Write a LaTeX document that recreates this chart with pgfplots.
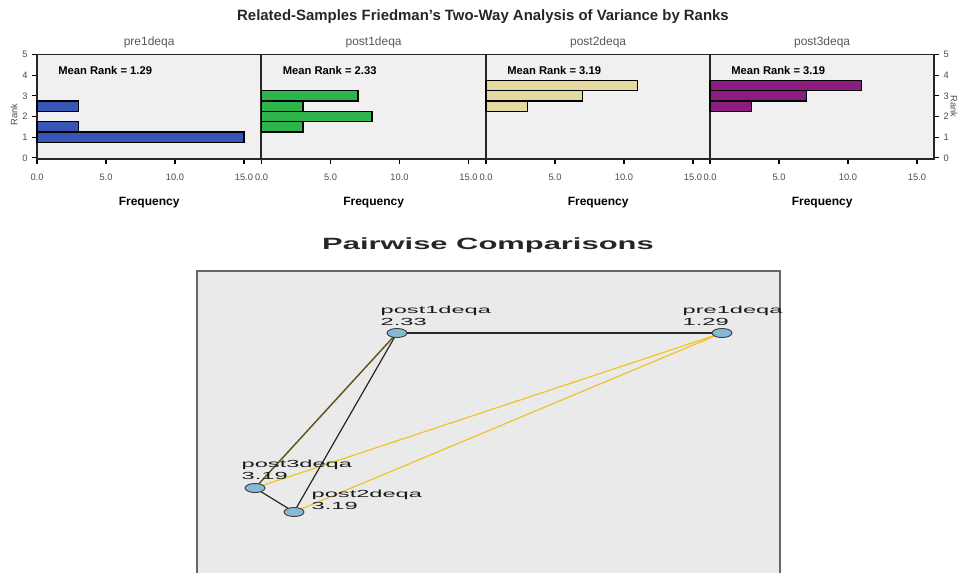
\documentclass[border=0pt]{standalone}
\usepackage{pgfplots}
\pgfplotsset{compat=1.18}
\usepackage{fontspec}
\setmainfont{Liberation Sans}
\usepackage{graphicx}
\definecolor{barblue}{RGB}{55,85,180}
\definecolor{bargreen}{RGB}{45,180,75}
\definecolor{barkhaki}{RGB}{228,218,160}
\definecolor{barpurple}{RGB}{140,28,130}
\definecolor{panelbg}{RGB}{240,240,240}
\definecolor{boxbg}{RGB}{234,234,234}
\definecolor{nodeblue}{RGB}{135,185,215}
\definecolor{edgeyellow}{RGB}{240,195,40}
\definecolor{edgeolive}{RGB}{95,85,30}
\pgfplotsset{
  panel/.style={
    scale only axis, width=168.2pt, height=78.4pt,
    xmin=0, xmax=16.25, ymin=-0.05, ymax=5,
    axis background/.style={fill=panelbg},
    axis line style={black!85, line width=1.3pt},
    xtick={0,5,10,15}, xticklabels={0.0,5.0,10.0,15.0},
    xtick pos=left, tick align=outside, major tick length=3.5pt,
    tick style={black, line width=0.8pt},
    /pgf/number format/assume math mode=true,
    ticklabel style={font=\fontsize{7}{8}\selectfont, text=black!70},
    xticklabel style={yshift=-4pt},
    xlabel={Frequency},
    xlabel style={font=\bfseries\fontsize{9}{10}\selectfont, yshift=-6pt},
    title style={font=\fontsize{9}{10}\selectfont, text=black!65, yshift=-5pt},
    clip=false,
  },
  freqbar/.style={xbar, bar width=0.5, draw=black, line width=1pt},
}
\tikzset{
  meanrank/.style={anchor=west, inner sep=0pt, font=\bfseries\fontsize{8.4}{9}\selectfont},
  lbl/.style={anchor=base west, font=\fontsize{7.7}{9}\selectfont, text=black!90},
  ranklbl/.style={font=\fontsize{7}{8}\selectfont, text=black!70},
}
\begin{document}
\begin{tikzpicture}
\useasboundingbox (0pt,0pt) rectangle (720.75pt,-429.75pt);
\node[font=\bfseries\fontsize{11.2}{13}\selectfont, text=black!85] at (362.25pt,-12.75pt) {Related-Samples Friedman's Two-Way Analysis of Variance by Ranks};

% panel 1
\begin{axis}[panel, at={(27.75pt,-119.25pt)}, anchor=south west, title={pre1deqa},
  ytick={0,1,2,3,4,5}, ytick pos=left]
\addplot[freqbar, fill=barblue] coordinates {(15,1) (3,1.5) (3,2.5)};
\node[meanrank] at (rel axis cs:0.094,0.842) {Mean Rank = 1.29};
\end{axis}
% panel 2
\begin{axis}[panel, at={(196.125pt,-119.25pt)}, anchor=south west, title={post1deqa}, ytick=\empty]
\addplot[freqbar, fill=bargreen] coordinates {(3,1.5) (8,2) (3,2.5) (7,3)};
\node[meanrank] at (rel axis cs:0.094,0.842) {Mean Rank = 2.33};
\end{axis}
% panel 3
\begin{axis}[panel, at={(364.5pt,-119.25pt)}, anchor=south west, title={post2deqa}, ytick=\empty]
\addplot[freqbar, fill=barkhaki] coordinates {(3,2.5) (7,3) (11,3.5)};
\node[meanrank] at (rel axis cs:0.094,0.842) {Mean Rank = 3.19};
\end{axis}
% panel 4
\begin{axis}[panel, at={(532.5pt,-119.25pt)}, anchor=south west, title={post3deqa},
  ytick={0,1,2,3,4,5}, ytick pos=right, yticklabel pos=right]
\addplot[freqbar, fill=barpurple] coordinates {(3,2.5) (7,3) (11,3.5)};
\node[meanrank] at (rel axis cs:0.094,0.842) {Mean Rank = 3.19};
\end{axis}
\node[ranklbl, rotate=90] at (10.5pt,-86pt) {Rank};
\node[ranklbl, rotate=-90] at (715.5pt,-80pt) {Rank};

\node[font=\bfseries\fontsize{12.2}{14}\selectfont, text=black!85] at (366pt,-183.75pt) {\scalebox{1.9}[1]{Pairwise Comparisons}};

\begin{axis}[at={(147.75pt,-203.25pt)}, anchor=north west, scale only axis,
  width=437.25pt, height=240pt, xmin=197, xmax=780, ymin=271, ymax=591,
  y dir=reverse, ticks=none, axis background/.style={fill=boxbg},
  axis line style={draw=black!60, line width=2.2pt}, clip=false]
\addplot[edgeyellow, line width=0.9pt] coordinates {(722,333) (255,488)};
\addplot[edgeyellow, line width=0.9pt] coordinates {(722,333) (294,512)};
\addplot[black!85, line width=0.9pt] coordinates {(397,333) (722,333)};
\addplot[edgeolive, line width=1.1pt] coordinates {(397,333) (255,488)};
\addplot[black!85, line width=0.9pt] coordinates {(397,333) (294,512)};
\addplot[black!85, line width=0.9pt] coordinates {(255,488) (294,512)};
\addplot[only marks, mark=*, mark size=3.4pt, mark options={xscale=2.2, fill=nodeblue, draw=black!75, line width=0.7pt}] coordinates {(397,333) (722,333) (255,488) (294,512)};
\node[lbl] at (axis cs:376,313) {\scalebox{2.3}[1]{post1deqa}};
\node[lbl] at (axis cs:376,325) {\scalebox{2.3}[1]{2.33}};
\node[lbl] at (axis cs:678,313) {\scalebox{2.3}[1]{pre1deqa}};
\node[lbl] at (axis cs:678,325) {\scalebox{2.3}[1]{1.29}};
\node[lbl] at (axis cs:237,467) {\scalebox{2.3}[1]{post3deqa}};
\node[lbl] at (axis cs:237,479) {\scalebox{2.3}[1]{3.19}};
\node[lbl] at (axis cs:307,497) {\scalebox{2.3}[1]{post2deqa}};
\node[lbl] at (axis cs:307,509) {\scalebox{2.3}[1]{3.19}};
\end{axis}
\end{tikzpicture}
\end{document}
